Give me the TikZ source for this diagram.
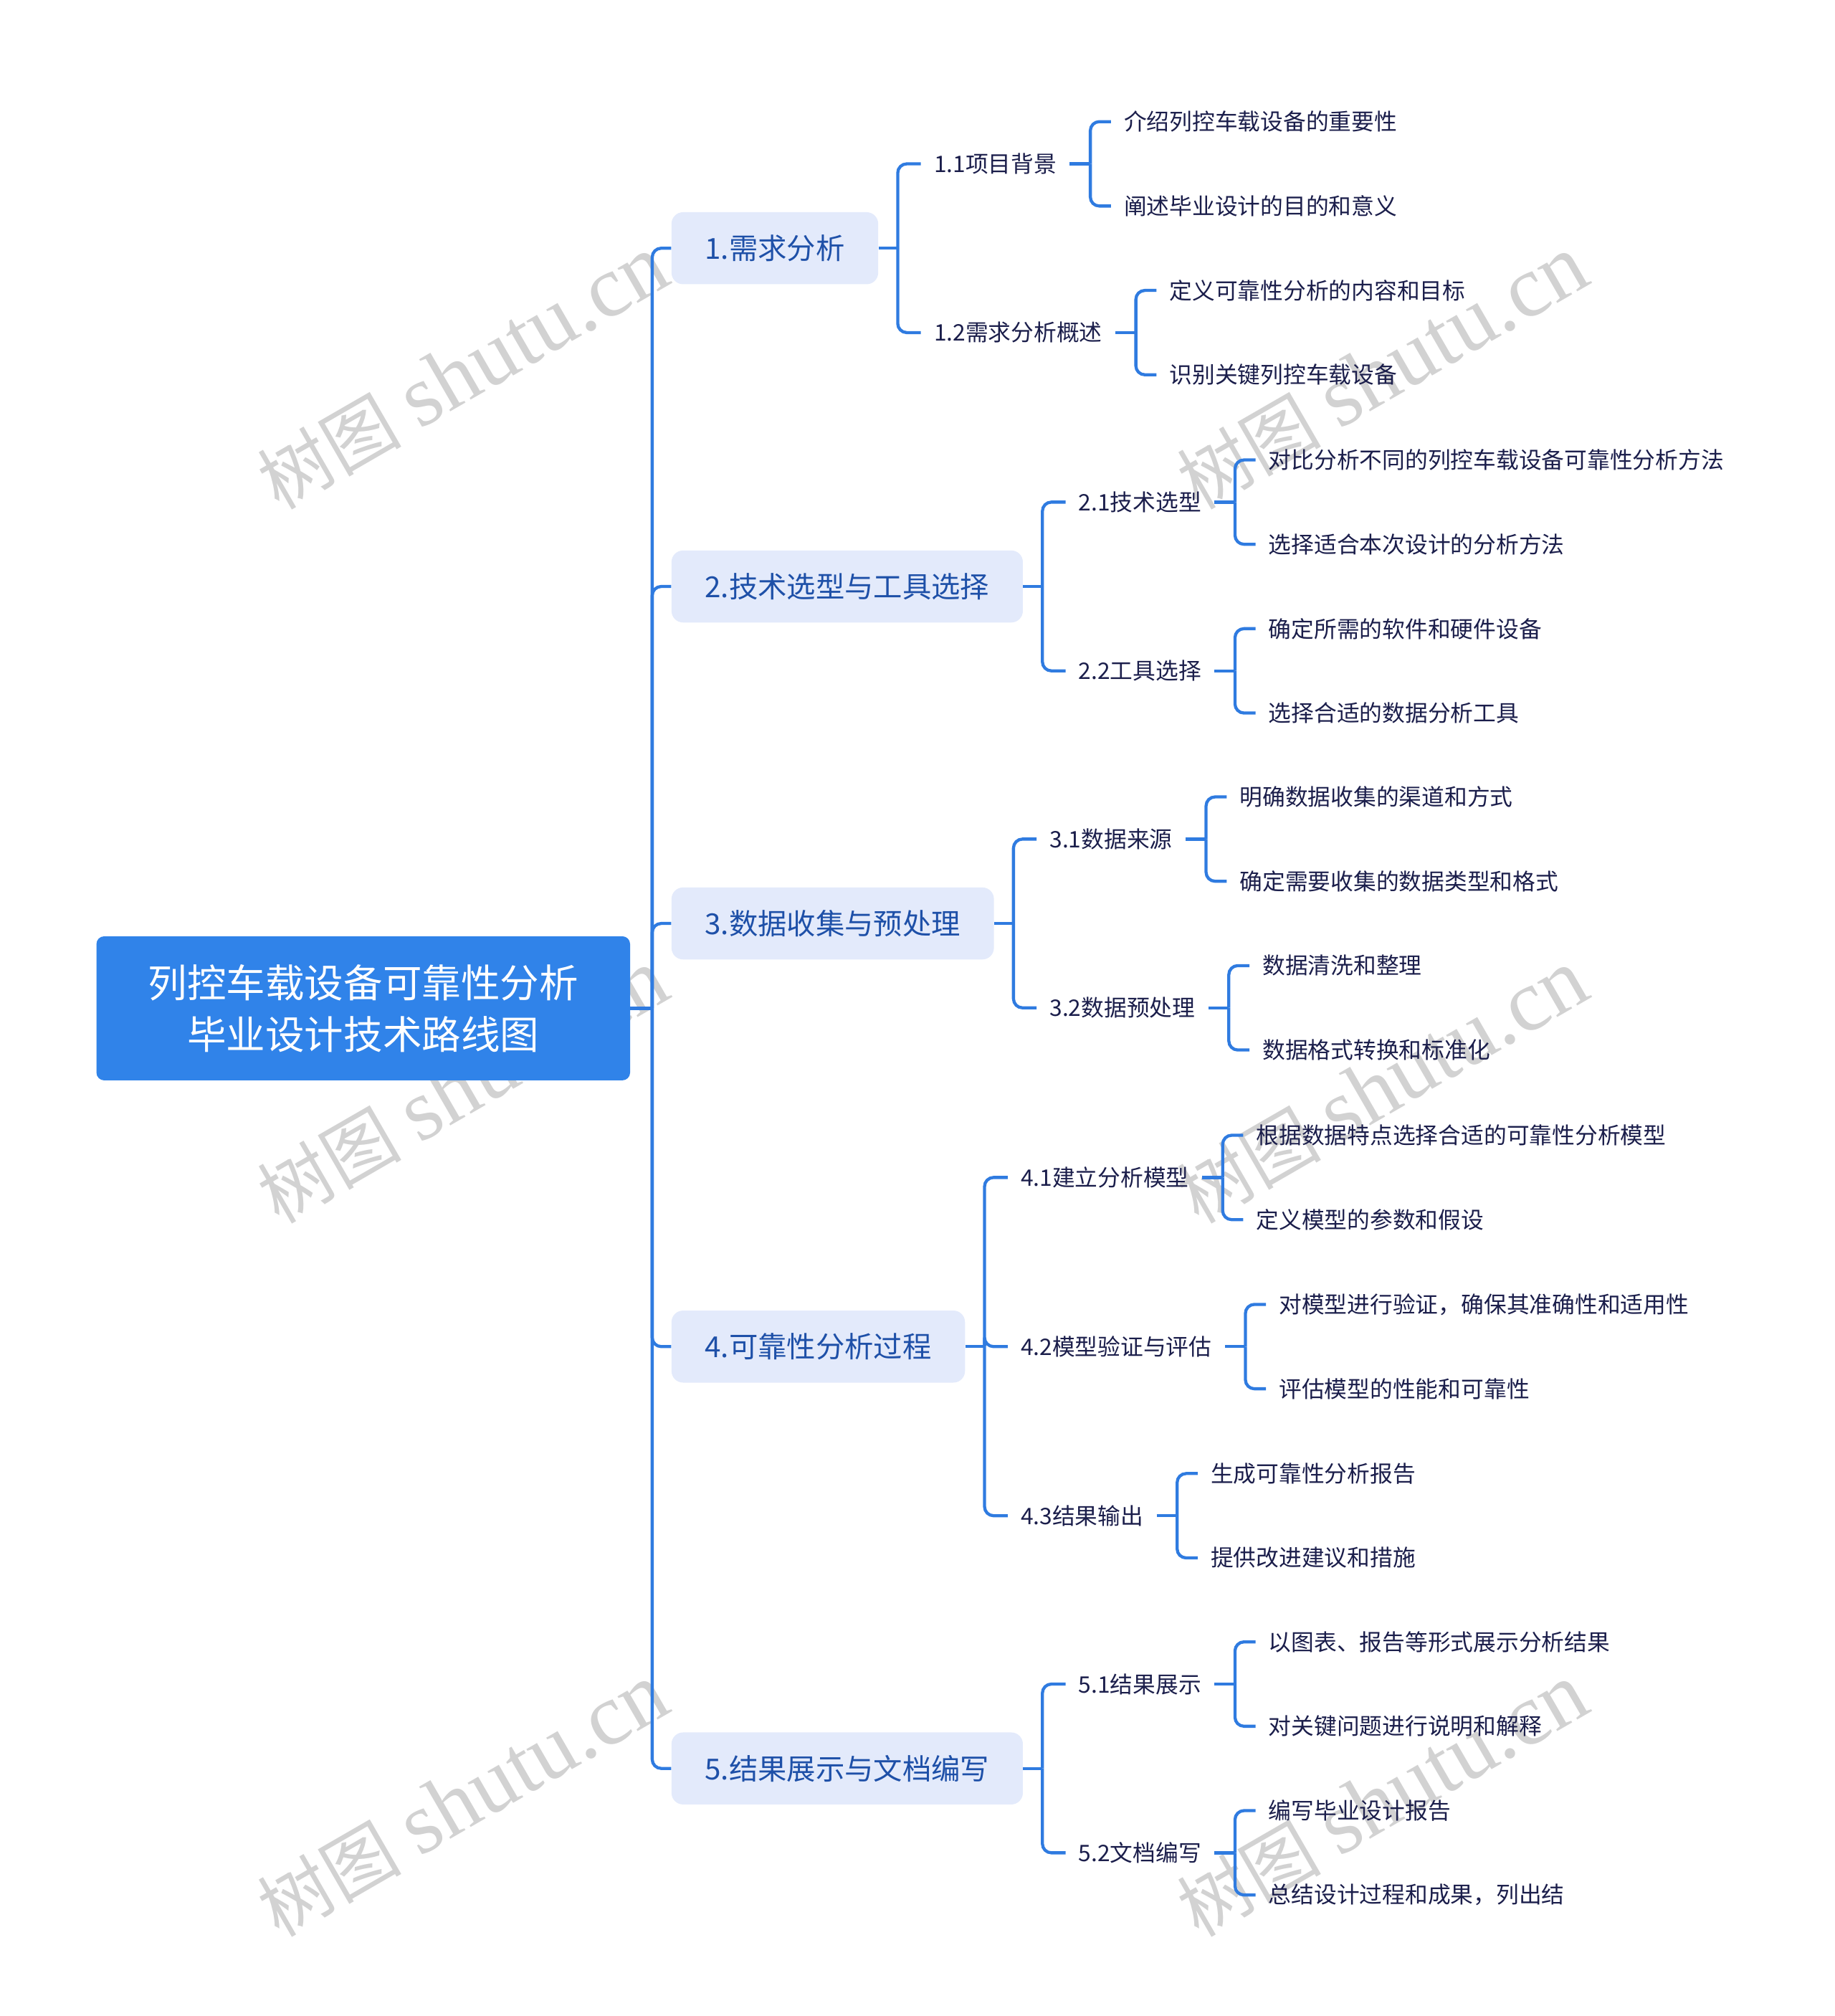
\documentclass[tikz,border=0pt]{standalone}
\usepackage{fontspec}
\setmainfont{Noto Sans CJK SC}
\newfontfamily\wmfont{Liberation Serif}
\usetikzlibrary{calc}
\definecolor{linec}{HTML}{2F7BE0}
\definecolor{rootc}{HTML}{3083E9}
\definecolor{lonefill}{HTML}{E3EAFB}
\definecolor{lonetext}{HTML}{1E50A8}
\definecolor{txtc}{HTML}{1B1E4B}
\definecolor{wmc}{HTML}{D2D2D2}
\newcommand\mmbranch[3]{%
  \draw[conn] (#1.east) -- ++(#2,0) coordinate (#1b);
  \foreach \c in {#3} {\draw[conn] (#1b) |- (\c.west);}
}
\begin{document}
\begin{tikzpicture}[x=1pt,y=-1pt,
  conn/.style={draw=linec, line width=2.4pt, rounded corners=7pt},
  rootbox/.style={fill=rootc, rounded corners=6pt, text=white, align=center,
    minimum width=415pt, minimum height=112pt, inner sep=0pt,
    font=\fontsize{30.4}{40}\selectfont},
  lone/.style={fill=lonefill, rounded corners=9pt, text=lonetext, anchor=west,
    minimum height=56pt, inner xsep=26pt, font=\fontsize{22.5}{27}\selectfont},
  ltwo/.style={text=txtc, anchor=west, inner xsep=10pt, inner ysep=3pt,
    font=\fontsize{17.7}{21}\selectfont},
  lthree/.style={ltwo},
  wm/.style={text=wmc, rotate=30, inner sep=0pt}
]
\useasboundingbox (0,0) rectangle (1427,1567.5);

% watermarks
\foreach \wx/\wy [count=\i] in {360/290,1075/290,360/845,1075/845,360/1400,1075/1400}
  \node[wm] (wm\i) at (\wx,\wy) {{\fontsize{56}{56}\selectfont 树图}\hspace{14pt}{\wmfont\fontsize{68}{68}\selectfont shutu.cn}};

% root
\node[rootbox] (R) at (282.5,784) {列控车载设备可靠性分析\\毕业设计技术路线图};

% level 1
\node[lone] (A) at (522,193) {1.需求分析};
\node[lone] (B) at (522,456) {2.技术选型与工具选择};
\node[lone] (C) at (522,718) {3.数据收集与预处理};
\node[lone] (D) at (522,1047) {4.可靠性分析过程};
\node[lone] (E) at (522,1375) {5.结果展示与文档编写};

% level 2
\node[ltwo] (A1) at ($(A.east)+(33,-65.6)$) {1.1项目背景};
\node[ltwo] (A2) at ($(A.east)+(33,65.6)$) {1.2需求分析概述};
\node[ltwo] (B1) at ($(B.east)+(33,-65.6)$) {2.1技术选型};
\node[ltwo] (B2) at ($(B.east)+(33,65.6)$) {2.2工具选择};
\node[ltwo] (C1) at ($(C.east)+(33,-65.6)$) {3.1数据来源};
\node[ltwo] (C2) at ($(C.east)+(33,65.6)$) {3.2数据预处理};
\node[ltwo] (D1) at ($(D.east)+(33,-131.5)$) {4.1建立分析模型};
\node[ltwo] (D2) at ($(D.east)+(33,0)$) {4.2模型验证与评估};
\node[ltwo] (D3) at ($(D.east)+(33,131.5)$) {4.3结果输出};
\node[ltwo] (E1) at ($(E.east)+(33,-65.6)$) {5.1结果展示};
\node[ltwo] (E2) at ($(E.east)+(33,65.6)$) {5.2文档编写};

% level 3
\node[lthree] (A11) at ($(A1.east)+(32,-32.8)$) {介绍列控车载设备的重要性};
\node[lthree] (A12) at ($(A1.east)+(32,32.8)$) {阐述毕业设计的目的和意义};
\node[lthree] (A21) at ($(A2.east)+(32,-32.8)$) {定义可靠性分析的内容和目标};
\node[lthree] (A22) at ($(A2.east)+(32,32.8)$) {识别关键列控车载设备};
\node[lthree] (B11) at ($(B1.east)+(32,-32.8)$) {对比分析不同的列控车载设备可靠性分析方法};
\node[lthree] (B12) at ($(B1.east)+(32,32.8)$) {选择适合本次设计的分析方法};
\node[lthree] (B21) at ($(B2.east)+(32,-32.8)$) {确定所需的软件和硬件设备};
\node[lthree] (B22) at ($(B2.east)+(32,32.8)$) {选择合适的数据分析工具};
\node[lthree] (C11) at ($(C1.east)+(32,-32.8)$) {明确数据收集的渠道和方式};
\node[lthree] (C12) at ($(C1.east)+(32,32.8)$) {确定需要收集的数据类型和格式};
\node[lthree] (C21) at ($(C2.east)+(32,-32.8)$) {数据清洗和整理};
\node[lthree] (C22) at ($(C2.east)+(32,32.8)$) {数据格式转换和标准化};
\node[lthree] (D11) at ($(D1.east)+(32,-32.8)$) {根据数据特点选择合适的可靠性分析模型};
\node[lthree] (D12) at ($(D1.east)+(32,32.8)$) {定义模型的参数和假设};
\node[lthree] (D21) at ($(D2.east)+(32,-32.8)$) {对模型进行验证，确保其准确性和适用性};
\node[lthree] (D22) at ($(D2.east)+(32,32.8)$) {评估模型的性能和可靠性};
\node[lthree] (D31) at ($(D3.east)+(32,-32.8)$) {生成可靠性分析报告};
\node[lthree] (D32) at ($(D3.east)+(32,32.8)$) {提供改进建议和措施};
\node[lthree] (E11) at ($(E1.east)+(32,-32.8)$) {以图表、报告等形式展示分析结果};
\node[lthree] (E12) at ($(E1.east)+(32,32.8)$) {对关键问题进行说明和解释};
\node[lthree] (E21) at ($(E2.east)+(32,-32.8)$) {编写毕业设计报告};
\node[lthree] (E22) at ($(E2.east)+(32,32.8)$) {总结设计过程和成果，列出结};

% connectors
\mmbranch{R}{17}{A,B,C,D,E}
\mmbranch{A}{15}{A1,A2}
\mmbranch{B}{15}{B1,B2}
\mmbranch{C}{15}{C1,C2}
\mmbranch{D}{15}{D1,D2,D3}
\mmbranch{E}{15}{E1,E2}
\mmbranch{A1}{16}{A11,A12}
\mmbranch{A2}{16}{A21,A22}
\mmbranch{B1}{16}{B11,B12}
\mmbranch{B2}{16}{B21,B22}
\mmbranch{C1}{16}{C11,C12}
\mmbranch{C2}{16}{C21,C22}
\mmbranch{D1}{16}{D11,D12}
\mmbranch{D2}{16}{D21,D22}
\mmbranch{D3}{16}{D31,D32}
\mmbranch{E1}{16}{E11,E12}
\mmbranch{E2}{16}{E21,E22}
\end{tikzpicture}
\end{document}
